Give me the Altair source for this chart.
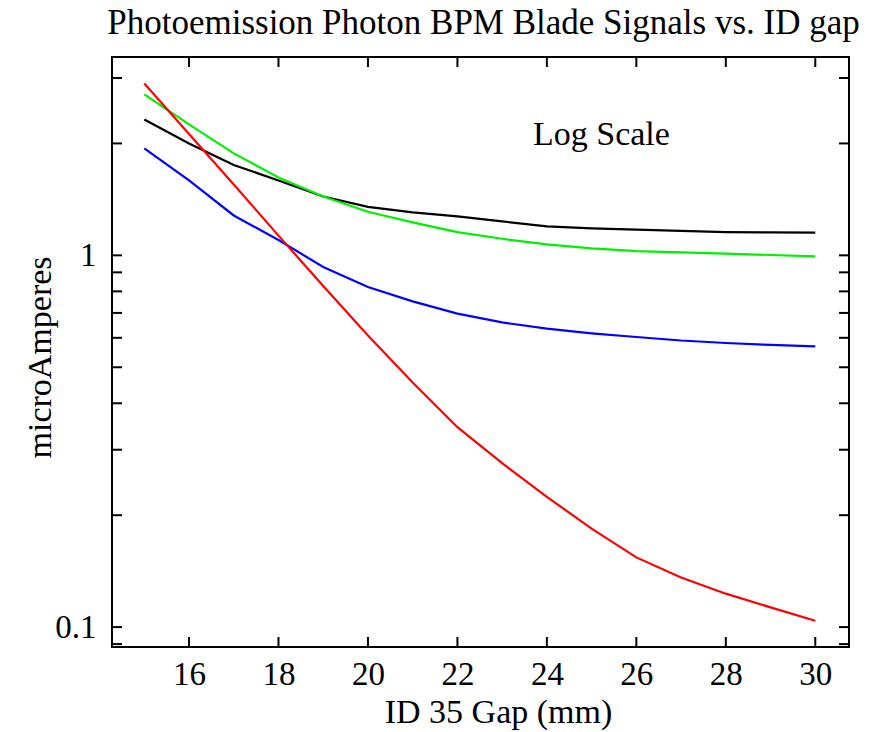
import altair as alt
import pandas as pd

gap = list(range(15, 31))
black = [2.32, 2.00, 1.75, 1.59, 1.44, 1.35, 1.305, 1.273, 1.234, 1.197, 1.182, 1.173, 1.164, 1.155, 1.153, 1.151]
green = [2.71, 2.25, 1.88, 1.62, 1.44, 1.31, 1.227, 1.155, 1.108, 1.070, 1.044, 1.027, 1.019, 1.011, 1.002, 0.994]
blue = [1.94, 1.59, 1.28, 1.10, 0.93, 0.822, 0.752, 0.697, 0.660, 0.635, 0.617, 0.603, 0.590, 0.581, 0.574, 0.569]
red = [2.90, 2.12, 1.55, 1.13, 0.827, 0.609, 0.455, 0.345, 0.276, 0.224, 0.184, 0.154, 0.136, 0.123, 0.113, 0.104]

series_names = ["black", "green", "blue", "red"]
series_colors = ["#000000", "#00f000", "#0000ff", "#ff0000"]

x_ticks = [16, 18, 20, 22, 24, 26, 28, 30]
y_ticks = [0.09, 0.1, 0.2, 0.3, 0.4, 0.5, 0.6, 0.7, 0.8, 0.9, 1, 2, 3]
y_labels = [0.1, 1]

note_text = ["Log Scale"]
note_x = [23.69]
note_y = [1.98]

rows = []
for name, vals in zip(series_names, [black, green, blue, red]):
    for g, v in zip(gap, vals):
        rows.append({"gap": g, "current": v, "series": name})
df = pd.DataFrame(rows)
note_df = pd.DataFrame({"x": note_x, "y": note_y, "t": note_text})
xt_df = pd.DataFrame({"v": x_ticks})
yt_df = pd.DataFrame({"v": y_ticks})
frame_df = pd.DataFrame({"k": [0]})

W, H = 737, 590
TL = 10  # tick length (style)
FONT = "Liberation Serif"
xscale = alt.Scale(domain=[14.278, 30.754], nice=False, zero=False)
yscale = alt.Scale(type="log", domain=[0.0884, 3.416], nice=False)

main = alt.Chart(df).mark_line(strokeWidth=2.2).encode(
    x=alt.X("gap:Q", scale=xscale, axis=alt.Axis(
        orient="bottom", values=x_ticks, format="d", ticks=False, domain=False, grid=False,
        labelFont=FONT, labelFontSize=33, labelColor="black", labelPadding=11,
        title="ID 35 Gap (mm)", titleFont=FONT, titleFontSize=34, titleFontWeight="normal",
        titleColor="black", titleBaseline="alphabetic", titleX=386, titleY=75, titleAlign="center")),
    y=alt.Y("current:Q", scale=yscale, axis=alt.Axis(
        orient="left", values=y_labels, labelExpr="datum.value >= 0.99 ? '1' : '0.1'",
        ticks=False, domain=False, grid=False,
        labelFont=FONT, labelFontSize=33, labelColor="black", labelPadding=16,
        title="microAmperes", titleFont=FONT, titleFontSize=34, titleFontWeight="normal",
        titleColor="black", titleBaseline="alphabetic", titleX=-62, titleY=300, titleAlign="center",
        titleAngle=270)),
    color=alt.Color("series:N", scale=alt.Scale(domain=series_names, range=series_colors), legend=None),
    order=alt.Order("series:N"),
)

note = alt.Chart(note_df).mark_text(font=FONT, fontSize=34, align="left", baseline="alphabetic", color="black").encode(
    x=alt.X("x:Q", scale=xscale),
    y=alt.Y("y:Q", scale=yscale),
    text="t:N",
)

tick_style = dict(color="black", strokeWidth=2)
ytick_left = alt.Chart(yt_df).mark_rule(**tick_style).encode(
    y=alt.Y("v:Q", scale=yscale), x=alt.value(0), x2=alt.value(TL))
ytick_right = alt.Chart(yt_df).mark_rule(**tick_style).encode(
    y=alt.Y("v:Q", scale=yscale), x=alt.value(W - TL), x2=alt.value(W))
xtick_bottom = alt.Chart(xt_df).mark_rule(**tick_style).encode(
    x=alt.X("v:Q", scale=xscale), y=alt.value(H - TL), y2=alt.value(H))
xtick_top = alt.Chart(xt_df).mark_rule(**tick_style).encode(
    x=alt.X("v:Q", scale=xscale), y=alt.value(0), y2=alt.value(TL))

frame = alt.Chart(frame_df).mark_rect(fillOpacity=0, stroke="black", strokeWidth=2).encode(
    x=alt.value(0), x2=alt.value(W), y=alt.value(0), y2=alt.value(H))

chart = alt.layer(main, note, ytick_left, ytick_right, xtick_bottom, xtick_top, frame).properties(
    width=W, height=H,
    title=alt.TitleParams("Photoemission Photon BPM Blade Signals vs. ID gap", font=FONT, fontSize=35,
                          fontWeight="normal", color="black", baseline="alphabetic", offset=22, dy=35,
                          anchor="middle", dx=3),
    autosize=alt.AutoSizeParams(type="none"),
    padding={"left": 112, "top": 57, "right": 27, "bottom": 85},
    background="white",
).configure_view(stroke="black", strokeWidth=2)

chart.save("out.html", embed_options={"renderer": "svg", "actions": False})
